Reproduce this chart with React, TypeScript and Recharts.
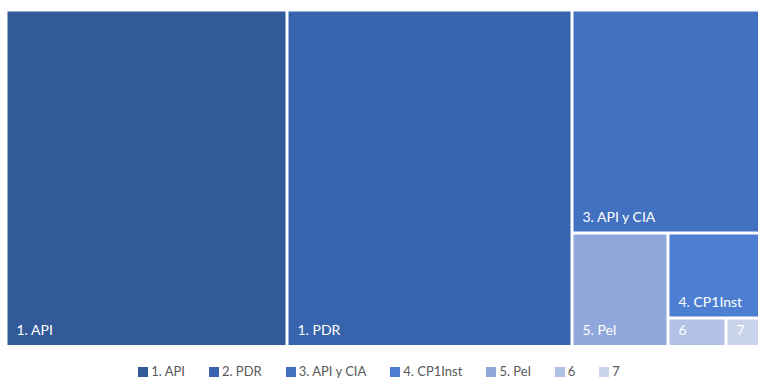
import React from 'react';
import { Treemap } from 'recharts';

const names = ['1. API', '2. PDR', '3. API y CIA', '4. CP1Inst', '5. Pel', '6', '7'];
const tileLabels = ['1. API', '1. PDR', '3. API y CIA', '4. CP1Inst', '5. Pel', '6', '7'];
const values = [372, 377, 166, 31, 43, 6.5, 4.3];
const colors = ['#335A98', '#3864AD', '#4271C1', '#4C7ED2', '#8FA7DB', '#B1C2E4', '#C9D4EC'];

// treemap order: biggest first, Pel before CP1Inst as laid out
const order = [0, 1, 2, 4, 3, 5, 6];
const treeData = order.map((i) => ({ name: tileLabels[i], size: values[i], colorIndex: i }));

const FONT = 'Lato, "Open Sans", sans-serif';
const GAP = 1.5;

const Tile = (props: any) => {
  const { x, y, width, height, depth, name, colorIndex } = props;
  if (depth !== 1) return null;
  return (
    <g>
      <rect
        x={x + GAP}
        y={y + GAP}
        width={Math.max(0, width - GAP * 2)}
        height={Math.max(0, height - GAP * 2)}
        fill={colors[colorIndex]}
      />
      <text
        x={x + GAP + 9}
        y={y + height - GAP - 10}
        fill="#ffffff"
        fontSize={14}
        fontFamily={FONT}
        stroke="none"
      >
        {name}
      </text>
    </g>
  );
};

export default function App() {
  return (
    <div style={{ position: 'absolute', left: 0, top: 0, width: 758, height: 379, background: '#fff', overflow: 'hidden' }}>
      <div style={{ position: 'absolute', left: 5.5, top: 9.5, width: 755, height: 337 }}>
        <Treemap
          width={755}
          height={336.5}
          data={treeData}
          dataKey="size"
          stroke="none"
          isAnimationActive={false}
          content={<Tile />}
        />
      </div>
      <div
        style={{
          position: 'absolute',
          left: 0,
          width: 758,
          top: 364,
          height: 15,
          display: 'flex',
          justifyContent: 'center',
          alignItems: 'center',
          gap: 24,
          fontFamily: FONT,
          fontSize: 13,
          color: '#595959',
          lineHeight: '15px',
        }}
      >
        {names.map((n, i) => (
          <div key={n} style={{ display: 'flex', alignItems: 'center', height: 15 }}>
            <span style={{ width: 10, height: 10, background: colors[i], marginRight: 3, display: 'inline-block' }} />
            <span>{n}</span>
          </div>
        ))}
      </div>
    </div>
  );
}
